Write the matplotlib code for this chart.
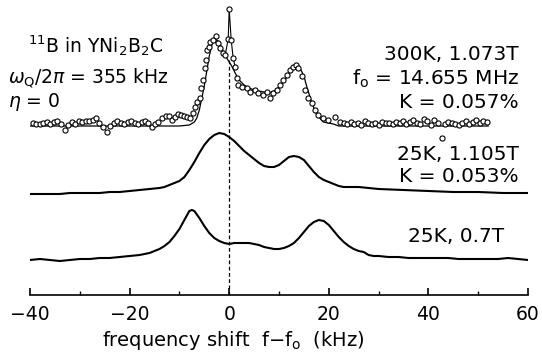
import numpy as np
import matplotlib
matplotlib.use("Agg")
import matplotlib.pyplot as plt

# ---------------- data (frequency shift in kHz, intensity in arb. units) -------------
# 300K, 1.073T : measured points (open circles)
f_300 = [-39.4, -38.7, -38.0, -37.3, -36.6, -35.9, -35.2, -34.5, -33.8, -33.0,
         -32.3, -31.6, -30.9, -30.2, -29.5, -28.8, -28.1, -27.4, -26.8, -26.1,
         -25.4, -24.6, -23.9, -23.2, -22.5, -21.8, -21.1, -20.4, -19.7, -19.0,
         -18.3, -17.6, -17.0, -16.3, -15.6, -14.9, -14.2, -13.4, -12.7, -12.1,
         -11.5, -10.9, -10.3, -9.6, -9.0, -8.4, -7.8, -7.3, -6.8, -6.4,
         -5.8, -5.6, -5.2, -4.8, -4.6, -4.4, -4.0, -3.8, -3.2, -2.6,
         -2.2, -1.8, -1.2, -0.8, -0.2, 0.0, 0.4, 0.8, 1.2, 1.6,
         1.8, 2.6, 3.6, 4.2, 5.2, 5.8, 6.8, 7.6, 8.2, 8.8,
         9.6, 10.2, 10.8, 11.6, 12.2, 12.8, 13.4, 13.8, 14.7, 15.3,
         15.9, 16.7, 17.3, 17.9, 18.9, 19.9, 21.3, 22.3,
         23.0, 23.7, 24.4, 25.1, 25.8, 26.5, 27.2, 27.9, 28.6, 29.3,
         30.0, 30.7, 31.4, 32.1, 32.8, 33.5, 34.2, 34.9, 35.6, 36.3,
         37.0, 37.7, 38.4, 39.1, 39.8, 40.5, 41.2, 41.9, 42.8, 43.3,
         44.0, 44.7, 45.4, 46.1, 46.8, 47.5, 48.2, 48.9, 49.6, 50.3,
         51.0, 51.7]
i_300 = [3, 2, 2, 3, 4, 2, 4, 5, 2, -4,
         1, 4, 2, 5, 4, 5, 5, 6, 8, 3,
         -1, -6, 0, 3, 5, 3, 2, 4, 5, 3,
         2, 4, 5, 3, -1, 2, 4, 8, 10, 10,
         6, 9, 12, 11, 10, 9, 8, 13, 19, 24,
         28, 38, 46, 58, 66, 76, 79, 84, 86, 90,
         83, 78, 73, 71, 87, 117, 86, 68, 59, 48,
         41, 39, 38, 34, 36, 33, 31, 34, 28, 33,
         36, 41, 46, 51, 56, 59, 61, 58, 50, 36,
         28, 23, 16, 11, 8, 6, 9, 4,
         3, 2, 4, 2, 3, 1, 5, 3, 2, 3,
         1, 4, 3, 3, 2, 4, 3, 5, 2, 4,
         6, 3, 2, 7, 5, 1, 6, 3, -12, 2,
         4, 3, 2, 1, 3, 5, 2, 4, 6, 3,
         5, 4]

# 300K : calculated powder pattern (solid line)
f_fit = [-40, -30, -20, -12, -10, -9, -8, -7, -6.5, -6, -5.5, -5, -4.5, -4, -3.5,
         -3, -2.5, -2, -1, 0, 0.5, 1, 1.6, 2, 3, 3.6, 4, 5, 6, 7, 8, 9, 10,
         10.8, 11, 12, 12.8, 13.3, 14, 14.3, 15, 15.6, 16.6, 17.6, 18.9, 20.9,
         22, 30, 40, 52]
i_fit = [0, 0, 0, 0, 0, 0.5, 1, 4, 8, 16, 28, 40, 55, 70, 81,
         86, 86, 84, 72, 64, 60, 55, 49, 46, 41, 39, 38, 36, 35, 34, 33, 35, 39,
         43, 45, 52, 59, 61, 59, 57, 50, 39, 23, 11, 4, 2,
         0, 0, 0, 0]

# 25K, 1.105T
f_25a = [-40, -38, -36, -34, -32, -30, -28, -26, -24, -22, -20, -18, -16, -14, -13,
         -12, -11, -10, -9, -8, -7, -6, -5, -4, -3, -2, -1, 0, 1, 2, 3, 4, 5, 6,
         7, 8, 9, 10, 11, 12, 13, 14, 15, 16, 17, 18, 19, 20, 21, 22, 23, 24, 26,
         28, 30, 35, 40, 45, 50, 55, 60]
i_25a = [0, 0, 0, 0, 1, 1, 1, 1, 2, 2, 3, 4, 5, 6, 7,
         9, 11, 13, 17, 24, 32, 41, 49, 55, 59, 61, 60, 57, 53, 48, 43, 39, 35, 31,
         28, 27, 27, 29, 33, 37, 38, 37, 34, 28, 22, 17, 14, 12, 10, 8, 7, 7, 7,
         6, 5, 4, 3, 2, 2, 1, 1]

# 25K, 0.7T
f_25b = [-40, -38, -36, -34, -32, -30, -28, -26, -24, -22, -20, -18, -16, -14, -13,
         -12, -11, -10, -9, -8, -7.5, -7, -6, -5, -4, -3, -2, -1, 0, 1, 2, 3, 4,
         5, 6, 7, 8, 9, 10, 11, 12, 13, 14, 15, 16, 17, 18, 19, 20, 21, 22, 23,
         24, 25, 26, 27, 28, 29, 30, 32, 34, 36, 38, 40, 42, 44, 46, 48, 50, 52,
         54, 56, 58, 60]
i_25b = [0, 1, 0, -1, 0, 1, 1, 2, 2, 3, 4, 5, 7, 11, 14,
         18, 24, 31, 40, 49, 50, 49, 42, 34, 27, 22, 19, 17, 16, 17, 17, 17, 17,
         16, 15, 13, 12, 11, 11, 12, 14, 17, 22, 28, 34, 38, 40, 39, 35, 29, 23, 18,
         14, 11, 9, 8, 5, 4, 4, 3, 3, 2, 2, 2, 2, 2, 1, 1, 1, 1,
         1, 2, 1, 0]

x_ticks = [-40, -20, 0, 20, 40, 60]

# ---------------- layout / style -----------------
off_300, off_25a, off_25b = 169, 101, 35

fig = plt.figure(figsize=(5.42, 3.53), dpi=100)
ax = fig.add_axes([30 / 542, 58 / 353, 498 / 542, 295 / 353])
ax.set_xlim(-40, 60)
ax.set_ylim(0, 295)

fa = np.array(f_300)
ia = np.array(i_300) + off_300
ax.plot(np.array(f_fit), np.array(i_fit) + off_300, color="black", lw=0.9, zorder=2)
ax.plot(fa, ia, linestyle="none", marker="o", ms=3.7, mfc="white", mec="black",
        mew=0.8, zorder=3)
m = (fa >= -1.3) & (fa <= 1.3)
ax.plot(fa[m], ia[m], color="black", lw=0.8, zorder=2)

ax.plot(f_25a, np.array(i_25a) + off_25a, color="black", lw=1.5)
ax.plot(f_25b, np.array(i_25b) + off_25b, color="black", lw=1.5)

ax.axvline(0, ymin=0, ymax=235 / 295, color="black", lw=0.9, ls=(0, (3, 2)), zorder=1)

for s in ["left", "right", "top"]:
    ax.spines[s].set_visible(False)
ax.spines["bottom"].set_linewidth(1.2)
ax.set_yticks([])
ax.set_xticks(x_ticks)
ax.set_xticklabels([str(t).replace("-", "\u2212") for t in x_ticks])
ax.set_xticks([-30, -10, 10, 30, 50], minor=True)
ax.tick_params(axis="x", which="major", direction="in", length=5, width=1.2,
               labelsize=13.5, pad=7)
ax.tick_params(axis="x", which="minor", direction="in", length=3, width=1.0)

fig.text(233 / 542, 1 - 340 / 353, "frequency shift  f$-$f$_\\mathrm{o}$  (kHz)",
         ha="center", va="center", fontsize=14)

fs_l = 13.5
fs_r = 14.5
fig.text(28 / 542, 1 - 46 / 353, "$^{11}$B in YNi$_2$B$_2$C", ha="left", va="center", fontsize=fs_l)
fig.text(8 / 542, 1 - 78 / 353, "$\\omega_\\mathrm{Q}/2\\pi$ = 355 kHz", ha="left", va="center", fontsize=fs_l)
fig.text(8 / 542, 1 - 102 / 353, "$\\eta$ = 0", ha="left", va="center", fontsize=fs_l)

fig.text(519 / 542, 1 - 54 / 353, "300K, 1.073T", ha="right", va="center", fontsize=fs_r)
fig.text(519 / 542, 1 - 79 / 353, "f$_\\mathrm{o}$ = 14.655 MHz", ha="right", va="center", fontsize=fs_r)
fig.text(519 / 542, 1 - 103 / 353, "K = 0.057%", ha="right", va="center", fontsize=fs_r)
fig.text(519 / 542, 1 - 155 / 353, "25K, 1.105T", ha="right", va="center", fontsize=fs_r)
fig.text(519 / 542, 1 - 177 / 353, "K = 0.053%", ha="right", va="center", fontsize=fs_r)
fig.text(504 / 542, 1 - 237 / 353, "25K, 0.7T", ha="right", va="center", fontsize=fs_r)

fig.savefig("out.png", dpi=100)
